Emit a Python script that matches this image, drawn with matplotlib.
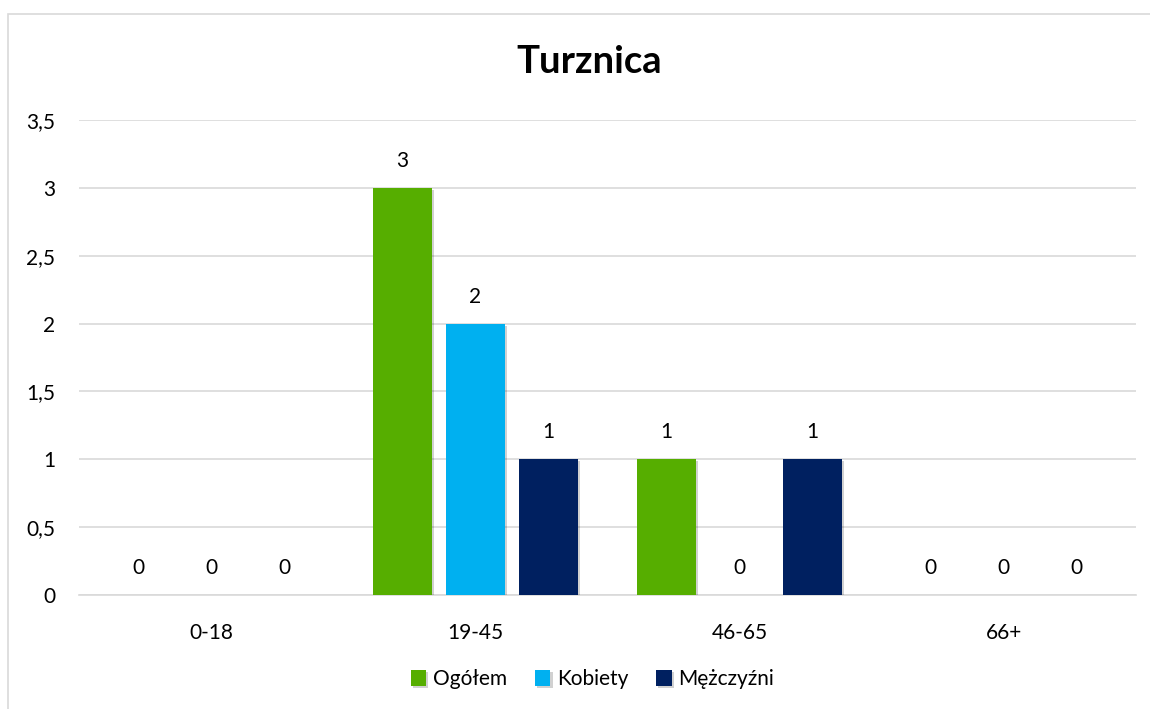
import numpy as np
import matplotlib.pyplot as plt
import matplotlib.patheffects as pe
from matplotlib.patches import Rectangle
from matplotlib.ticker import FuncFormatter

plt.rcParams['font.family'] = ['Lato', 'DejaVu Sans']

# Dane
kategorie = ['0-18', '19-45', '46-65', '66+']
serie = ['Ogółem', 'Kobiety', 'Mężczyźni']
ogolem = [0, 3, 1, 0]
kobiety = [0, 2, 0, 0]
mezczyzni = [0, 1, 1, 0]
kolory = ['#56AE00', '#00B0F0', '#002060']

fig = plt.figure(figsize=(11.5, 7.09), dpi=100)
ax = fig.add_axes([0.0687, 0.1608, 0.919, 0.6699])

# ramka wykresu
fig.patches.append(Rectangle((8 / 1150, -0.1), 1.2, 1 - 14 / 709 + 0.1,
                             transform=fig.transFigure, fill=False,
                             edgecolor='#D9D9D9', linewidth=1.2))

x = np.arange(len(kategorie))
szer = 0.223
krok = 0.276
cien = [pe.SimplePatchShadow(offset=(1.5, -1.5), shadow_rgbFace='#000000', alpha=0.18), pe.Normal()]

for i, (nazwa, wartosci) in enumerate(zip(serie, [ogolem, kobiety, mezczyzni])):
    pozycje = x + (i - 1) * krok
    slupki = ax.bar(pozycje, wartosci, width=szer, color=kolory[i], label=nazwa, zorder=3)
    for s in slupki:
        s.set_path_effects(cien)
    for px, v in zip(pozycje, wartosci):
        ax.annotate(str(v), (px, v), xytext=(0, 19.5), textcoords='offset points',
                    ha='center', va='center', fontsize=15, color='#000000')

ax.set_xlim(-0.5, len(kategorie) - 0.5)
ax.set_ylim(0, 3.5)
ax.set_yticks(np.arange(0, 3.51, 0.5))
ax.yaxis.set_major_formatter(FuncFormatter(lambda v, p: ('%g' % v).replace('.', ',')))
ax.set_xticks(x)
ax.set_xticklabels(kategorie)
ax.tick_params(axis='both', length=0, labelsize=15, colors='#000000')
ax.tick_params(axis='y', pad=17)
ax.tick_params(axis='x', pad=20)
ax.grid(axis='y', color='#D9D9D9', linewidth=1.2, zorder=0)
for k in ['top', 'right', 'left']:
    ax.spines[k].set_visible(False)
ax.spines['bottom'].set_color('#D9D9D9')
ax.spines['bottom'].set_linewidth(1.2)

fig.text(0.512, 0.912, 'Turznica', ha='center', va='center', fontsize=27.5, fontweight='bold')

fig.legend(loc='center', bbox_to_anchor=(0.515, 0.042), ncol=3, frameon=False,
           fontsize=15, handlelength=0.75, handleheight=0.75, handletextpad=0.3,
           columnspacing=1.35)

fig.savefig('out.png', dpi=100)
